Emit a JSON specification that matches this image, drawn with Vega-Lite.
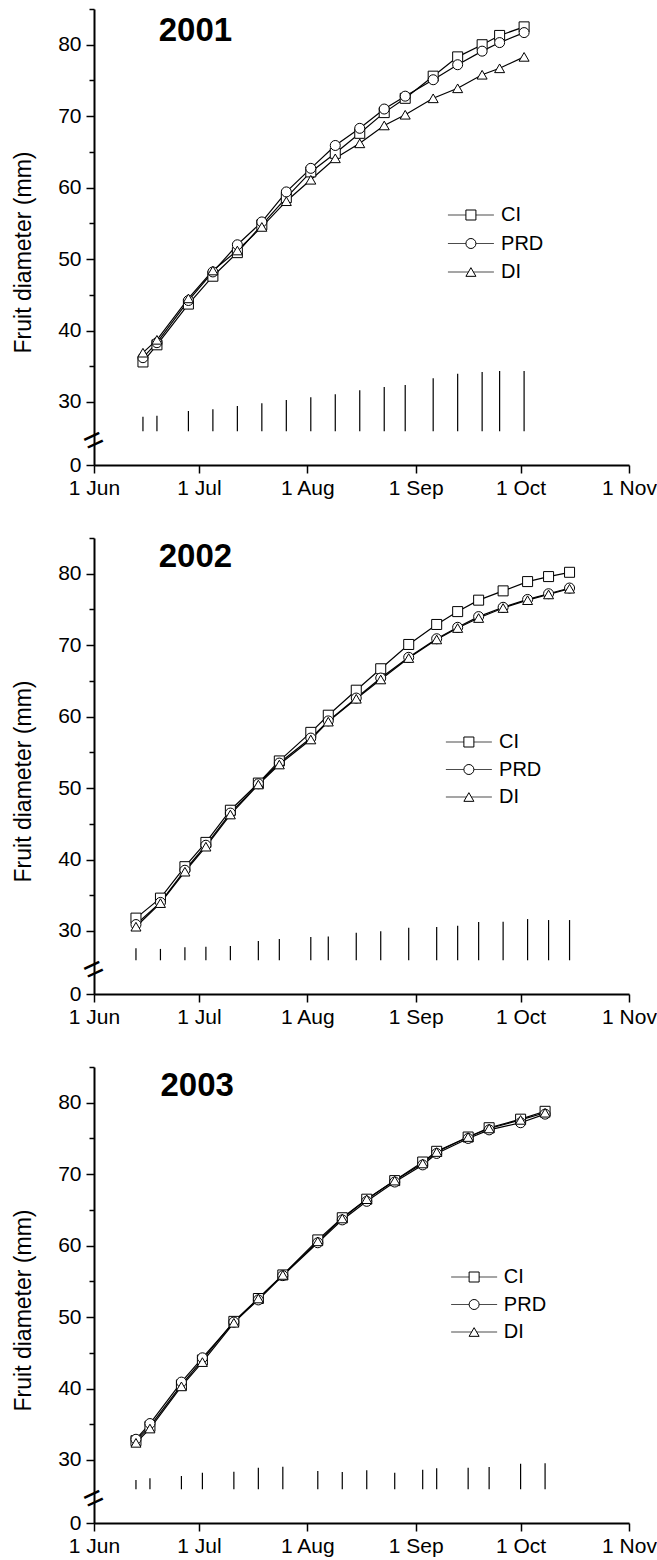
{
  "$schema": "https://vega.github.io/schema/vega-lite/v6.json",
  "autosize": {"type": "pad"},
  "padding": {"left": 12, "top": 8, "right": 4, "bottom": 4},
  "background": "white",
  "spacing": 73,
  "bounds": "flush",
  "config": {
    "view": {"stroke": null},
    "font": "Liberation Sans",
    "axis": {
      "labelFont": "Liberation Sans", "titleFont": "Liberation Sans",
      "labelColor": "black", "titleColor": "black",
      "domainColor": "black", "tickColor": "black",
      "grid": false, "labelFontSize": 21, "titleFontSize": 23,
      "titleFontWeight": "normal", "domainWidth": 2, "tickWidth": 1.5
    }
  },
  "datasets": {
    "panels": [
      {"year": 2001, "label": "2001"},
      {"year": 2002, "label": "2002"},
      {"year": 2003, "label": "2003"}
    ],
    "legend": [
      {"treatment": "CI"},
      {"treatment": "PRD"},
      {"treatment": "DI"}
    ],
    "lsd": [
      {"year": 2001, "date": "2001-06-15", "lsd": 27.94},
      {"year": 2001, "date": "2001-06-19", "lsd": 28.08},
      {"year": 2001, "date": "2001-06-28", "lsd": 28.74},
      {"year": 2001, "date": "2001-07-05", "lsd": 28.98},
      {"year": 2001, "date": "2001-07-12", "lsd": 29.44},
      {"year": 2001, "date": "2001-07-19", "lsd": 29.82},
      {"year": 2001, "date": "2001-07-26", "lsd": 30.28},
      {"year": 2001, "date": "2001-08-02", "lsd": 30.66},
      {"year": 2001, "date": "2001-08-09", "lsd": 31.08},
      {"year": 2001, "date": "2001-08-16", "lsd": 31.64},
      {"year": 2001, "date": "2001-08-23", "lsd": 32.1},
      {"year": 2001, "date": "2001-08-29", "lsd": 32.38},
      {"year": 2001, "date": "2001-09-06", "lsd": 33.32},
      {"year": 2001, "date": "2001-09-13", "lsd": 33.96},
      {"year": 2001, "date": "2001-09-20", "lsd": 34.2},
      {"year": 2001, "date": "2001-09-25", "lsd": 34.34},
      {"year": 2001, "date": "2001-10-02", "lsd": 34.34},
      {"year": 2002, "date": "2002-06-13", "lsd": 27.59},
      {"year": 2002, "date": "2002-06-20", "lsd": 27.49},
      {"year": 2002, "date": "2002-06-27", "lsd": 27.73},
      {"year": 2002, "date": "2002-07-03", "lsd": 27.81},
      {"year": 2002, "date": "2002-07-10", "lsd": 27.91},
      {"year": 2002, "date": "2002-07-18", "lsd": 28.61},
      {"year": 2002, "date": "2002-07-24", "lsd": 28.89},
      {"year": 2002, "date": "2002-08-02", "lsd": 29.16},
      {"year": 2002, "date": "2002-08-07", "lsd": 29.21},
      {"year": 2002, "date": "2002-08-15", "lsd": 29.76},
      {"year": 2002, "date": "2002-08-22", "lsd": 29.96},
      {"year": 2002, "date": "2002-08-30", "lsd": 30.46},
      {"year": 2002, "date": "2002-09-07", "lsd": 30.56},
      {"year": 2002, "date": "2002-09-13", "lsd": 30.74},
      {"year": 2002, "date": "2002-09-19", "lsd": 31.25},
      {"year": 2002, "date": "2002-09-26", "lsd": 31.3},
      {"year": 2002, "date": "2002-10-03", "lsd": 31.67},
      {"year": 2002, "date": "2002-10-09", "lsd": 31.53},
      {"year": 2002, "date": "2002-10-15", "lsd": 31.53},
      {"year": 2003, "date": "2003-06-13", "lsd": 27.2},
      {"year": 2003, "date": "2003-06-17", "lsd": 27.44},
      {"year": 2003, "date": "2003-06-26", "lsd": 27.76},
      {"year": 2003, "date": "2003-07-02", "lsd": 28.22},
      {"year": 2003, "date": "2003-07-11", "lsd": 28.36},
      {"year": 2003, "date": "2003-07-18", "lsd": 28.92},
      {"year": 2003, "date": "2003-07-25", "lsd": 29.06},
      {"year": 2003, "date": "2003-08-04", "lsd": 28.46},
      {"year": 2003, "date": "2003-08-11", "lsd": 28.32},
      {"year": 2003, "date": "2003-08-18", "lsd": 28.56},
      {"year": 2003, "date": "2003-08-26", "lsd": 28.22},
      {"year": 2003, "date": "2003-09-03", "lsd": 28.64},
      {"year": 2003, "date": "2003-09-07", "lsd": 28.84},
      {"year": 2003, "date": "2003-09-16", "lsd": 28.92},
      {"year": 2003, "date": "2003-09-22", "lsd": 29.02},
      {"year": 2003, "date": "2003-10-01", "lsd": 29.48},
      {"year": 2003, "date": "2003-10-08", "lsd": 29.54}
    ],
    "growth": [
      {"year": 2001, "date": "2001-06-15", "treatment": "CI", "diameter": 35.6},
      {"year": 2001, "date": "2001-06-19", "treatment": "CI", "diameter": 38.0},
      {"year": 2001, "date": "2001-06-28", "treatment": "CI", "diameter": 43.7},
      {"year": 2001, "date": "2001-07-05", "treatment": "CI", "diameter": 47.6},
      {"year": 2001, "date": "2001-07-12", "treatment": "CI", "diameter": 50.9},
      {"year": 2001, "date": "2001-07-19", "treatment": "CI", "diameter": 54.8},
      {"year": 2001, "date": "2001-07-26", "treatment": "CI", "diameter": 58.6},
      {"year": 2001, "date": "2001-08-02", "treatment": "CI", "diameter": 62.2},
      {"year": 2001, "date": "2001-08-09", "treatment": "CI", "diameter": 64.8},
      {"year": 2001, "date": "2001-08-16", "treatment": "CI", "diameter": 67.6},
      {"year": 2001, "date": "2001-08-23", "treatment": "CI", "diameter": 70.5},
      {"year": 2001, "date": "2001-08-29", "treatment": "CI", "diameter": 72.5},
      {"year": 2001, "date": "2001-09-06", "treatment": "CI", "diameter": 75.6},
      {"year": 2001, "date": "2001-09-13", "treatment": "CI", "diameter": 78.3},
      {"year": 2001, "date": "2001-09-20", "treatment": "CI", "diameter": 80.0},
      {"year": 2001, "date": "2001-09-25", "treatment": "CI", "diameter": 81.3},
      {"year": 2001, "date": "2001-10-02", "treatment": "CI", "diameter": 82.5},
      {"year": 2001, "date": "2001-06-15", "treatment": "PRD", "diameter": 36.2},
      {"year": 2001, "date": "2001-06-19", "treatment": "PRD", "diameter": 38.3},
      {"year": 2001, "date": "2001-06-28", "treatment": "PRD", "diameter": 44.2},
      {"year": 2001, "date": "2001-07-05", "treatment": "PRD", "diameter": 48.2},
      {"year": 2001, "date": "2001-07-12", "treatment": "PRD", "diameter": 52.0},
      {"year": 2001, "date": "2001-07-19", "treatment": "PRD", "diameter": 55.2},
      {"year": 2001, "date": "2001-07-26", "treatment": "PRD", "diameter": 59.4},
      {"year": 2001, "date": "2001-08-02", "treatment": "PRD", "diameter": 62.7},
      {"year": 2001, "date": "2001-08-09", "treatment": "PRD", "diameter": 65.9},
      {"year": 2001, "date": "2001-08-16", "treatment": "PRD", "diameter": 68.3},
      {"year": 2001, "date": "2001-08-23", "treatment": "PRD", "diameter": 71.0},
      {"year": 2001, "date": "2001-08-29", "treatment": "PRD", "diameter": 72.8},
      {"year": 2001, "date": "2001-09-06", "treatment": "PRD", "diameter": 75.1},
      {"year": 2001, "date": "2001-09-13", "treatment": "PRD", "diameter": 77.2},
      {"year": 2001, "date": "2001-09-20", "treatment": "PRD", "diameter": 79.1},
      {"year": 2001, "date": "2001-09-25", "treatment": "PRD", "diameter": 80.3},
      {"year": 2001, "date": "2001-10-02", "treatment": "PRD", "diameter": 81.7},
      {"year": 2001, "date": "2001-06-15", "treatment": "DI", "diameter": 36.9},
      {"year": 2001, "date": "2001-06-19", "treatment": "DI", "diameter": 38.7},
      {"year": 2001, "date": "2001-06-28", "treatment": "DI", "diameter": 44.5},
      {"year": 2001, "date": "2001-07-05", "treatment": "DI", "diameter": 48.4},
      {"year": 2001, "date": "2001-07-12", "treatment": "DI", "diameter": 51.2},
      {"year": 2001, "date": "2001-07-19", "treatment": "DI", "diameter": 54.5},
      {"year": 2001, "date": "2001-07-26", "treatment": "DI", "diameter": 58.1},
      {"year": 2001, "date": "2001-08-02", "treatment": "DI", "diameter": 61.1},
      {"year": 2001, "date": "2001-08-09", "treatment": "DI", "diameter": 64.1},
      {"year": 2001, "date": "2001-08-16", "treatment": "DI", "diameter": 66.2},
      {"year": 2001, "date": "2001-08-23", "treatment": "DI", "diameter": 68.7},
      {"year": 2001, "date": "2001-08-29", "treatment": "DI", "diameter": 70.2},
      {"year": 2001, "date": "2001-09-06", "treatment": "DI", "diameter": 72.5},
      {"year": 2001, "date": "2001-09-13", "treatment": "DI", "diameter": 73.9},
      {"year": 2001, "date": "2001-09-20", "treatment": "DI", "diameter": 75.8},
      {"year": 2001, "date": "2001-09-25", "treatment": "DI", "diameter": 76.7},
      {"year": 2001, "date": "2001-10-02", "treatment": "DI", "diameter": 78.3},
      {"year": 2002, "date": "2002-06-13", "treatment": "CI", "diameter": 31.8},
      {"year": 2002, "date": "2002-06-20", "treatment": "CI", "diameter": 34.6},
      {"year": 2002, "date": "2002-06-27", "treatment": "CI", "diameter": 39.0},
      {"year": 2002, "date": "2002-07-03", "treatment": "CI", "diameter": 42.4},
      {"year": 2002, "date": "2002-07-10", "treatment": "CI", "diameter": 46.9},
      {"year": 2002, "date": "2002-07-18", "treatment": "CI", "diameter": 50.7},
      {"year": 2002, "date": "2002-07-24", "treatment": "CI", "diameter": 53.8},
      {"year": 2002, "date": "2002-08-02", "treatment": "CI", "diameter": 57.8},
      {"year": 2002, "date": "2002-08-07", "treatment": "CI", "diameter": 60.2},
      {"year": 2002, "date": "2002-08-15", "treatment": "CI", "diameter": 63.7},
      {"year": 2002, "date": "2002-08-22", "treatment": "CI", "diameter": 66.7},
      {"year": 2002, "date": "2002-08-30", "treatment": "CI", "diameter": 70.1},
      {"year": 2002, "date": "2002-09-07", "treatment": "CI", "diameter": 72.9},
      {"year": 2002, "date": "2002-09-13", "treatment": "CI", "diameter": 74.7},
      {"year": 2002, "date": "2002-09-19", "treatment": "CI", "diameter": 76.3},
      {"year": 2002, "date": "2002-09-26", "treatment": "CI", "diameter": 77.6},
      {"year": 2002, "date": "2002-10-03", "treatment": "CI", "diameter": 78.9},
      {"year": 2002, "date": "2002-10-09", "treatment": "CI", "diameter": 79.6},
      {"year": 2002, "date": "2002-10-15", "treatment": "CI", "diameter": 80.2},
      {"year": 2002, "date": "2002-06-13", "treatment": "PRD", "diameter": 30.9},
      {"year": 2002, "date": "2002-06-20", "treatment": "PRD", "diameter": 34.0},
      {"year": 2002, "date": "2002-06-27", "treatment": "PRD", "diameter": 38.5},
      {"year": 2002, "date": "2002-07-03", "treatment": "PRD", "diameter": 42.0},
      {"year": 2002, "date": "2002-07-10", "treatment": "PRD", "diameter": 46.5},
      {"year": 2002, "date": "2002-07-18", "treatment": "PRD", "diameter": 50.6},
      {"year": 2002, "date": "2002-07-24", "treatment": "PRD", "diameter": 53.5},
      {"year": 2002, "date": "2002-08-02", "treatment": "PRD", "diameter": 57.0},
      {"year": 2002, "date": "2002-08-07", "treatment": "PRD", "diameter": 59.4},
      {"year": 2002, "date": "2002-08-15", "treatment": "PRD", "diameter": 62.6},
      {"year": 2002, "date": "2002-08-22", "treatment": "PRD", "diameter": 65.4},
      {"year": 2002, "date": "2002-08-30", "treatment": "PRD", "diameter": 68.3},
      {"year": 2002, "date": "2002-09-07", "treatment": "PRD", "diameter": 70.9},
      {"year": 2002, "date": "2002-09-13", "treatment": "PRD", "diameter": 72.5},
      {"year": 2002, "date": "2002-09-19", "treatment": "PRD", "diameter": 74.0},
      {"year": 2002, "date": "2002-09-26", "treatment": "PRD", "diameter": 75.3},
      {"year": 2002, "date": "2002-10-03", "treatment": "PRD", "diameter": 76.4},
      {"year": 2002, "date": "2002-10-09", "treatment": "PRD", "diameter": 77.2},
      {"year": 2002, "date": "2002-10-15", "treatment": "PRD", "diameter": 78.0},
      {"year": 2002, "date": "2002-06-13", "treatment": "DI", "diameter": 30.6},
      {"year": 2002, "date": "2002-06-20", "treatment": "DI", "diameter": 33.9},
      {"year": 2002, "date": "2002-06-27", "treatment": "DI", "diameter": 38.3},
      {"year": 2002, "date": "2002-07-03", "treatment": "DI", "diameter": 41.8},
      {"year": 2002, "date": "2002-07-10", "treatment": "DI", "diameter": 46.3},
      {"year": 2002, "date": "2002-07-18", "treatment": "DI", "diameter": 50.5},
      {"year": 2002, "date": "2002-07-24", "treatment": "DI", "diameter": 53.3},
      {"year": 2002, "date": "2002-08-02", "treatment": "DI", "diameter": 56.8},
      {"year": 2002, "date": "2002-08-07", "treatment": "DI", "diameter": 59.3},
      {"year": 2002, "date": "2002-08-15", "treatment": "DI", "diameter": 62.5},
      {"year": 2002, "date": "2002-08-22", "treatment": "DI", "diameter": 65.2},
      {"year": 2002, "date": "2002-08-30", "treatment": "DI", "diameter": 68.2},
      {"year": 2002, "date": "2002-09-07", "treatment": "DI", "diameter": 70.8},
      {"year": 2002, "date": "2002-09-13", "treatment": "DI", "diameter": 72.4},
      {"year": 2002, "date": "2002-09-19", "treatment": "DI", "diameter": 73.8},
      {"year": 2002, "date": "2002-09-26", "treatment": "DI", "diameter": 75.2},
      {"year": 2002, "date": "2002-10-03", "treatment": "DI", "diameter": 76.3},
      {"year": 2002, "date": "2002-10-09", "treatment": "DI", "diameter": 77.1},
      {"year": 2002, "date": "2002-10-15", "treatment": "DI", "diameter": 77.9},
      {"year": 2003, "date": "2003-06-13", "treatment": "CI", "diameter": 32.7},
      {"year": 2003, "date": "2003-06-17", "treatment": "CI", "diameter": 34.7},
      {"year": 2003, "date": "2003-06-26", "treatment": "CI", "diameter": 40.5},
      {"year": 2003, "date": "2003-07-02", "treatment": "CI", "diameter": 44.0},
      {"year": 2003, "date": "2003-07-11", "treatment": "CI", "diameter": 49.4},
      {"year": 2003, "date": "2003-07-18", "treatment": "CI", "diameter": 52.6},
      {"year": 2003, "date": "2003-07-25", "treatment": "CI", "diameter": 55.9},
      {"year": 2003, "date": "2003-08-04", "treatment": "CI", "diameter": 60.8},
      {"year": 2003, "date": "2003-08-11", "treatment": "CI", "diameter": 63.9},
      {"year": 2003, "date": "2003-08-18", "treatment": "CI", "diameter": 66.5},
      {"year": 2003, "date": "2003-08-26", "treatment": "CI", "diameter": 69.1},
      {"year": 2003, "date": "2003-09-03", "treatment": "CI", "diameter": 71.7},
      {"year": 2003, "date": "2003-09-07", "treatment": "CI", "diameter": 73.2},
      {"year": 2003, "date": "2003-09-16", "treatment": "CI", "diameter": 75.2},
      {"year": 2003, "date": "2003-09-22", "treatment": "CI", "diameter": 76.5},
      {"year": 2003, "date": "2003-10-01", "treatment": "CI", "diameter": 77.7},
      {"year": 2003, "date": "2003-10-08", "treatment": "CI", "diameter": 78.8},
      {"year": 2003, "date": "2003-06-13", "treatment": "PRD", "diameter": 32.9},
      {"year": 2003, "date": "2003-06-17", "treatment": "PRD", "diameter": 35.1},
      {"year": 2003, "date": "2003-06-26", "treatment": "PRD", "diameter": 40.9},
      {"year": 2003, "date": "2003-07-02", "treatment": "PRD", "diameter": 44.3},
      {"year": 2003, "date": "2003-07-11", "treatment": "PRD", "diameter": 49.3},
      {"year": 2003, "date": "2003-07-18", "treatment": "PRD", "diameter": 52.4},
      {"year": 2003, "date": "2003-07-25", "treatment": "PRD", "diameter": 55.8},
      {"year": 2003, "date": "2003-08-04", "treatment": "PRD", "diameter": 60.4},
      {"year": 2003, "date": "2003-08-11", "treatment": "PRD", "diameter": 63.6},
      {"year": 2003, "date": "2003-08-18", "treatment": "PRD", "diameter": 66.2},
      {"year": 2003, "date": "2003-08-26", "treatment": "PRD", "diameter": 68.9},
      {"year": 2003, "date": "2003-09-03", "treatment": "PRD", "diameter": 71.3},
      {"year": 2003, "date": "2003-09-07", "treatment": "PRD", "diameter": 72.9},
      {"year": 2003, "date": "2003-09-16", "treatment": "PRD", "diameter": 75.0},
      {"year": 2003, "date": "2003-09-22", "treatment": "PRD", "diameter": 76.2},
      {"year": 2003, "date": "2003-10-01", "treatment": "PRD", "diameter": 77.2},
      {"year": 2003, "date": "2003-10-08", "treatment": "PRD", "diameter": 78.4},
      {"year": 2003, "date": "2003-06-13", "treatment": "DI", "diameter": 32.4},
      {"year": 2003, "date": "2003-06-17", "treatment": "DI", "diameter": 34.4},
      {"year": 2003, "date": "2003-06-26", "treatment": "DI", "diameter": 40.3},
      {"year": 2003, "date": "2003-07-02", "treatment": "DI", "diameter": 43.7},
      {"year": 2003, "date": "2003-07-11", "treatment": "DI", "diameter": 49.2},
      {"year": 2003, "date": "2003-07-18", "treatment": "DI", "diameter": 52.6},
      {"year": 2003, "date": "2003-07-25", "treatment": "DI", "diameter": 55.9},
      {"year": 2003, "date": "2003-08-04", "treatment": "DI", "diameter": 60.6},
      {"year": 2003, "date": "2003-08-11", "treatment": "DI", "diameter": 63.8},
      {"year": 2003, "date": "2003-08-18", "treatment": "DI", "diameter": 66.5},
      {"year": 2003, "date": "2003-08-26", "treatment": "DI", "diameter": 69.1},
      {"year": 2003, "date": "2003-09-03", "treatment": "DI", "diameter": 71.5},
      {"year": 2003, "date": "2003-09-07", "treatment": "DI", "diameter": 73.1},
      {"year": 2003, "date": "2003-09-16", "treatment": "DI", "diameter": 75.2},
      {"year": 2003, "date": "2003-09-22", "treatment": "DI", "diameter": 76.4},
      {"year": 2003, "date": "2003-10-01", "treatment": "DI", "diameter": 77.6},
      {"year": 2003, "date": "2003-10-08", "treatment": "DI", "diameter": 78.6}
    ]
  },
  "vconcat": [
    {
      "width": 535, "height": 456,
      "resolve": {"scale": {"y": "independent"}},
      "layer": [
        {
          "resolve": {"axis": {"y": "independent"}},
          "layer": [
            {"data": {"name": "lsd"}, "transform": [{"filter": "datum.year == 2001"}],
             "mark": {"type": "rule", "color": "black", "strokeWidth": 1.2},
             "encoding": {
               "x": {"field": "date", "type": "temporal",
                 "scale": {"type": "utc", "domain": [{"year": 2001, "month": 6, "date": 1, "utc": true}, {"year": 2001, "month": 11, "date": 1, "utc": true}]},
                 "axis": {"title": null, "format": "%-d %b", "tickCount": {"interval": "month", "step": 1}, "tickSize": 8, "labelPadding": 4, "labelFlush": false, "labelOverlap": false}},
               "y": {"field": "lsd", "type": "quantitative", "scale": {"domain": [21.18, 85], "nice": false, "zero": false},
                 "axis": {"orient": "left", "title": null, "values": [35, 45, 55, 65, 75, 85], "labels": false, "domain": false, "tickSize": 5}},
               "y2": {"datum": 25.9}}},
            {"data": {"name": "growth"}, "transform": [{"filter": "datum.year == 2001"}],
             "mark": {"type": "line", "color": "black", "strokeWidth": 1.2},
             "encoding": {
               "x": {"field": "date", "type": "temporal", "axis": {"title": null, "format": "%-d %b", "tickCount": {"interval": "month", "step": 1}, "tickSize": 8, "labelPadding": 4, "labelFlush": false, "labelOverlap": false}},
               "y": {"field": "diameter", "type": "quantitative", "scale": {"domain": [21.18, 85], "nice": false, "zero": false},
                 "axis": {"orient": "left", "title": "Fruit diameter (mm)", "titlePadding": 22, "titleY": 243,
                   "values": [21.18, 30, 40, 50, 60, 70, 80],
                   "labelExpr": "datum.value < 25 ? '0' : format(datum.value, 'd')",
                   "tickSize": 8, "labelPadding": 5, "labelOverlap": false, "labelFlush": false}},
               "detail": {"field": "treatment", "type": "nominal"}}},
            {"data": {"name": "growth"}, "transform": [{"filter": "datum.year == 2001"}],
             "mark": {"type": "point", "filled": true, "fill": "white", "stroke": "black", "strokeWidth": 1, "size": 100, "opacity": 1},
             "encoding": {
               "x": {"field": "date", "type": "temporal", "axis": {"title": null, "format": "%-d %b", "tickCount": {"interval": "month", "step": 1}, "tickSize": 8, "labelPadding": 4, "labelFlush": false, "labelOverlap": false}},
               "y": {"field": "diameter", "type": "quantitative", "axis": null},
               "shape": {"field": "treatment", "type": "nominal", "scale": {"domain": ["CI", "PRD", "DI"], "range": ["square", "circle", "triangle-up"]}, "legend": null}}},
            {"data": {"name": "panels"}, "transform": [{"filter": "datum.year == 2001"}],
             "mark": {"type": "text", "font": "Liberation Sans", "fontWeight": "bold", "fontSize": 33, "color": "black", "align": "center", "baseline": "middle"},
             "encoding": {
               "x": {"datum": {"year": 2001, "month": 6, "date": 30, "utc": true}, "type": "temporal", "axis": {"title": null, "format": "%-d %b", "tickCount": {"interval": "month", "step": 1}, "tickSize": 8, "labelPadding": 4, "labelFlush": false, "labelOverlap": false}},
               "y": {"datum": 81.9, "type": "quantitative", "axis": null},
               "text": {"field": "label"}}},
            {"data": {"name": "panels"}, "transform": [{"filter": "datum.year == 2001"}],
             "mark": {"type": "text", "font": "Liberation Sans", "fontSize": 34, "color": "black", "align": "center", "baseline": "middle", "angle": -25, "text": "="},
             "encoding": {
               "x": {"datum": {"year": 2001, "month": 6, "date": 1, "utc": true}, "type": "temporal", "axis": {"title": null, "format": "%-d %b", "tickCount": {"interval": "month", "step": 1}, "tickSize": 8, "labelPadding": 4, "labelFlush": false, "labelOverlap": false}},
               "y": {"datum": 24.5, "type": "quantitative", "axis": null}}}
          ]
        },
        {
          "data": {"name": "legend"},
          "layer": [
            {"mark": {"type": "tick", "orient": "horizontal", "size": 46, "thickness": 1.2, "color": "black"},
             "encoding": {
               "x": {"datum": {"year": 2001, "month": 9, "date": 16, "hours": 19, "utc": true}, "type": "temporal", "axis": {"title": null, "format": "%-d %b", "tickCount": {"interval": "month", "step": 1}, "tickSize": 8, "labelPadding": 4, "labelFlush": false, "labelOverlap": false}},
               "y": {"field": "treatment", "type": "nominal", "scale": {"type": "point", "domain": ["CI", "PRD", "DI"], "range": [206, 263], "padding": 0}, "axis": null}}},
            {"mark": {"type": "point", "filled": true, "fill": "white", "stroke": "black", "strokeWidth": 1, "size": 100, "opacity": 1},
             "encoding": {
               "x": {"datum": {"year": 2001, "month": 9, "date": 16, "hours": 19, "utc": true}, "type": "temporal", "axis": {"title": null, "format": "%-d %b", "tickCount": {"interval": "month", "step": 1}, "tickSize": 8, "labelPadding": 4, "labelFlush": false, "labelOverlap": false}},
               "y": {"field": "treatment", "type": "nominal", "axis": null},
               "shape": {"field": "treatment", "type": "nominal", "legend": null}}},
            {"mark": {"type": "text", "font": "Liberation Sans", "fontSize": 20, "color": "black", "align": "left", "baseline": "middle"},
             "encoding": {
               "x": {"datum": {"year": 2001, "month": 9, "date": 25, "hours": 10, "utc": true}, "type": "temporal", "axis": {"title": null, "format": "%-d %b", "tickCount": {"interval": "month", "step": 1}, "tickSize": 8, "labelPadding": 4, "labelFlush": false, "labelOverlap": false}},
               "y": {"field": "treatment", "type": "nominal", "axis": null},
               "text": {"field": "treatment"}}}
          ]
        }
      ]
    },
    {
      "width": 535, "height": 456,
      "resolve": {"scale": {"y": "independent"}},
      "layer": [
        {
          "resolve": {"axis": {"y": "independent"}},
          "layer": [
            {"data": {"name": "lsd"}, "transform": [{"filter": "datum.year == 2002"}],
             "mark": {"type": "rule", "color": "black", "strokeWidth": 1.2},
             "encoding": {
               "x": {"field": "date", "type": "temporal",
                 "scale": {"type": "utc", "domain": [{"year": 2002, "month": 6, "date": 1, "utc": true}, {"year": 2002, "month": 11, "date": 1, "utc": true}]},
                 "axis": {"title": null, "format": "%-d %b", "tickCount": {"interval": "month", "step": 1}, "tickSize": 8, "labelPadding": 4, "labelFlush": false, "labelOverlap": false}},
               "y": {"field": "lsd", "type": "quantitative", "scale": {"domain": [21.18, 85], "nice": false, "zero": false},
                 "axis": {"orient": "left", "title": null, "values": [35, 45, 55, 65, 75, 85], "labels": false, "domain": false, "tickSize": 5}},
               "y2": {"datum": 25.9}}},
            {"data": {"name": "growth"}, "transform": [{"filter": "datum.year == 2002"}],
             "mark": {"type": "line", "color": "black", "strokeWidth": 1.2},
             "encoding": {
               "x": {"field": "date", "type": "temporal", "axis": {"title": null, "format": "%-d %b", "tickCount": {"interval": "month", "step": 1}, "tickSize": 8, "labelPadding": 4, "labelFlush": false, "labelOverlap": false}},
               "y": {"field": "diameter", "type": "quantitative", "scale": {"domain": [21.18, 85], "nice": false, "zero": false},
                 "axis": {"orient": "left", "title": "Fruit diameter (mm)", "titlePadding": 22, "titleY": 243,
                   "values": [21.18, 30, 40, 50, 60, 70, 80],
                   "labelExpr": "datum.value < 25 ? '0' : format(datum.value, 'd')",
                   "tickSize": 8, "labelPadding": 5, "labelOverlap": false, "labelFlush": false}},
               "detail": {"field": "treatment", "type": "nominal"}}},
            {"data": {"name": "growth"}, "transform": [{"filter": "datum.year == 2002"}],
             "mark": {"type": "point", "filled": true, "fill": "white", "stroke": "black", "strokeWidth": 1, "size": 100, "opacity": 1},
             "encoding": {
               "x": {"field": "date", "type": "temporal", "axis": {"title": null, "format": "%-d %b", "tickCount": {"interval": "month", "step": 1}, "tickSize": 8, "labelPadding": 4, "labelFlush": false, "labelOverlap": false}},
               "y": {"field": "diameter", "type": "quantitative", "axis": null},
               "shape": {"field": "treatment", "type": "nominal", "scale": {"domain": ["CI", "PRD", "DI"], "range": ["square", "circle", "triangle-up"]}, "legend": null}}},
            {"data": {"name": "panels"}, "transform": [{"filter": "datum.year == 2002"}],
             "mark": {"type": "text", "font": "Liberation Sans", "fontWeight": "bold", "fontSize": 33, "color": "black", "align": "center", "baseline": "middle"},
             "encoding": {
               "x": {"datum": {"year": 2002, "month": 6, "date": 30, "utc": true}, "type": "temporal", "axis": {"title": null, "format": "%-d %b", "tickCount": {"interval": "month", "step": 1}, "tickSize": 8, "labelPadding": 4, "labelFlush": false, "labelOverlap": false}},
               "y": {"datum": 82.3, "type": "quantitative", "axis": null},
               "text": {"field": "label"}}},
            {"data": {"name": "panels"}, "transform": [{"filter": "datum.year == 2002"}],
             "mark": {"type": "text", "font": "Liberation Sans", "fontSize": 34, "color": "black", "align": "center", "baseline": "middle", "angle": -25, "text": "="},
             "encoding": {
               "x": {"datum": {"year": 2002, "month": 6, "date": 1, "utc": true}, "type": "temporal", "axis": {"title": null, "format": "%-d %b", "tickCount": {"interval": "month", "step": 1}, "tickSize": 8, "labelPadding": 4, "labelFlush": false, "labelOverlap": false}},
               "y": {"datum": 24.5, "type": "quantitative", "axis": null}}}
          ]
        },
        {
          "data": {"name": "legend"},
          "layer": [
            {"mark": {"type": "tick", "orient": "horizontal", "size": 46, "thickness": 1.2, "color": "black"},
             "encoding": {
               "x": {"datum": {"year": 2002, "month": 9, "date": 16, "hours": 5, "utc": true}, "type": "temporal", "axis": {"title": null, "format": "%-d %b", "tickCount": {"interval": "month", "step": 1}, "tickSize": 8, "labelPadding": 4, "labelFlush": false, "labelOverlap": false}},
               "y": {"field": "treatment", "type": "nominal", "scale": {"type": "point", "domain": ["CI", "PRD", "DI"], "range": [204, 259], "padding": 0}, "axis": null}}},
            {"mark": {"type": "point", "filled": true, "fill": "white", "stroke": "black", "strokeWidth": 1, "size": 100, "opacity": 1},
             "encoding": {
               "x": {"datum": {"year": 2002, "month": 9, "date": 16, "hours": 5, "utc": true}, "type": "temporal", "axis": {"title": null, "format": "%-d %b", "tickCount": {"interval": "month", "step": 1}, "tickSize": 8, "labelPadding": 4, "labelFlush": false, "labelOverlap": false}},
               "y": {"field": "treatment", "type": "nominal", "axis": null},
               "shape": {"field": "treatment", "type": "nominal", "legend": null}}},
            {"mark": {"type": "text", "font": "Liberation Sans", "fontSize": 20, "color": "black", "align": "left", "baseline": "middle"},
             "encoding": {
               "x": {"datum": {"year": 2002, "month": 9, "date": 24, "hours": 20, "utc": true}, "type": "temporal", "axis": {"title": null, "format": "%-d %b", "tickCount": {"interval": "month", "step": 1}, "tickSize": 8, "labelPadding": 4, "labelFlush": false, "labelOverlap": false}},
               "y": {"field": "treatment", "type": "nominal", "axis": null},
               "text": {"field": "treatment"}}}
          ]
        }
      ]
    },
    {
      "width": 535, "height": 456,
      "resolve": {"scale": {"y": "independent"}},
      "layer": [
        {
          "resolve": {"axis": {"y": "independent"}},
          "layer": [
            {"data": {"name": "lsd"}, "transform": [{"filter": "datum.year == 2003"}],
             "mark": {"type": "rule", "color": "black", "strokeWidth": 1.2},
             "encoding": {
               "x": {"field": "date", "type": "temporal",
                 "scale": {"type": "utc", "domain": [{"year": 2003, "month": 6, "date": 1, "utc": true}, {"year": 2003, "month": 11, "date": 1, "utc": true}]},
                 "axis": {"title": null, "format": "%-d %b", "tickCount": {"interval": "month", "step": 1}, "tickSize": 8, "labelPadding": 4, "labelFlush": false, "labelOverlap": false}},
               "y": {"field": "lsd", "type": "quantitative", "scale": {"domain": [21.18, 85], "nice": false, "zero": false},
                 "axis": {"orient": "left", "title": null, "values": [35, 45, 55, 65, 75, 85], "labels": false, "domain": false, "tickSize": 5}},
               "y2": {"datum": 25.9}}},
            {"data": {"name": "growth"}, "transform": [{"filter": "datum.year == 2003"}],
             "mark": {"type": "line", "color": "black", "strokeWidth": 1.2},
             "encoding": {
               "x": {"field": "date", "type": "temporal", "axis": {"title": null, "format": "%-d %b", "tickCount": {"interval": "month", "step": 1}, "tickSize": 8, "labelPadding": 4, "labelFlush": false, "labelOverlap": false}},
               "y": {"field": "diameter", "type": "quantitative", "scale": {"domain": [21.18, 85], "nice": false, "zero": false},
                 "axis": {"orient": "left", "title": "Fruit diameter (mm)", "titlePadding": 22, "titleY": 243,
                   "values": [21.18, 30, 40, 50, 60, 70, 80],
                   "labelExpr": "datum.value < 25 ? '0' : format(datum.value, 'd')",
                   "tickSize": 8, "labelPadding": 5, "labelOverlap": false, "labelFlush": false}},
               "detail": {"field": "treatment", "type": "nominal"}}},
            {"data": {"name": "growth"}, "transform": [{"filter": "datum.year == 2003"}],
             "mark": {"type": "point", "filled": true, "fill": "white", "stroke": "black", "strokeWidth": 1, "size": 100, "opacity": 1},
             "encoding": {
               "x": {"field": "date", "type": "temporal", "axis": {"title": null, "format": "%-d %b", "tickCount": {"interval": "month", "step": 1}, "tickSize": 8, "labelPadding": 4, "labelFlush": false, "labelOverlap": false}},
               "y": {"field": "diameter", "type": "quantitative", "axis": null},
               "shape": {"field": "treatment", "type": "nominal", "scale": {"domain": ["CI", "PRD", "DI"], "range": ["square", "circle", "triangle-up"]}, "legend": null}}},
            {"data": {"name": "panels"}, "transform": [{"filter": "datum.year == 2003"}],
             "mark": {"type": "text", "font": "Liberation Sans", "fontWeight": "bold", "fontSize": 33, "color": "black", "align": "center", "baseline": "middle"},
             "encoding": {
               "x": {"datum": {"year": 2003, "month": 6, "date": 30, "hours": 12, "utc": true}, "type": "temporal", "axis": {"title": null, "format": "%-d %b", "tickCount": {"interval": "month", "step": 1}, "tickSize": 8, "labelPadding": 4, "labelFlush": false, "labelOverlap": false}},
               "y": {"datum": 82.3, "type": "quantitative", "axis": null},
               "text": {"field": "label"}}},
            {"data": {"name": "panels"}, "transform": [{"filter": "datum.year == 2003"}],
             "mark": {"type": "text", "font": "Liberation Sans", "fontSize": 34, "color": "black", "align": "center", "baseline": "middle", "angle": -25, "text": "="},
             "encoding": {
               "x": {"datum": {"year": 2003, "month": 6, "date": 1, "utc": true}, "type": "temporal", "axis": {"title": null, "format": "%-d %b", "tickCount": {"interval": "month", "step": 1}, "tickSize": 8, "labelPadding": 4, "labelFlush": false, "labelOverlap": false}},
               "y": {"datum": 24.5, "type": "quantitative", "axis": null}}}
          ]
        },
        {
          "data": {"name": "legend"},
          "layer": [
            {"mark": {"type": "tick", "orient": "horizontal", "size": 46, "thickness": 1.2, "color": "black"},
             "encoding": {
               "x": {"datum": {"year": 2003, "month": 9, "date": 17, "hours": 17, "utc": true}, "type": "temporal", "axis": {"title": null, "format": "%-d %b", "tickCount": {"interval": "month", "step": 1}, "tickSize": 8, "labelPadding": 4, "labelFlush": false, "labelOverlap": false}},
               "y": {"field": "treatment", "type": "nominal", "scale": {"type": "point", "domain": ["CI", "PRD", "DI"], "range": [210, 265], "padding": 0}, "axis": null}}},
            {"mark": {"type": "point", "filled": true, "fill": "white", "stroke": "black", "strokeWidth": 1, "size": 100, "opacity": 1},
             "encoding": {
               "x": {"datum": {"year": 2003, "month": 9, "date": 17, "hours": 17, "utc": true}, "type": "temporal", "axis": {"title": null, "format": "%-d %b", "tickCount": {"interval": "month", "step": 1}, "tickSize": 8, "labelPadding": 4, "labelFlush": false, "labelOverlap": false}},
               "y": {"field": "treatment", "type": "nominal", "axis": null},
               "shape": {"field": "treatment", "type": "nominal", "legend": null}}},
            {"mark": {"type": "text", "font": "Liberation Sans", "fontSize": 20, "color": "black", "align": "left", "baseline": "middle"},
             "encoding": {
               "x": {"datum": {"year": 2003, "month": 9, "date": 26, "hours": 5, "utc": true}, "type": "temporal", "axis": {"title": null, "format": "%-d %b", "tickCount": {"interval": "month", "step": 1}, "tickSize": 8, "labelPadding": 4, "labelFlush": false, "labelOverlap": false}},
               "y": {"field": "treatment", "type": "nominal", "axis": null},
               "text": {"field": "treatment"}}}
          ]
        }
      ]
    }
  ]
}
